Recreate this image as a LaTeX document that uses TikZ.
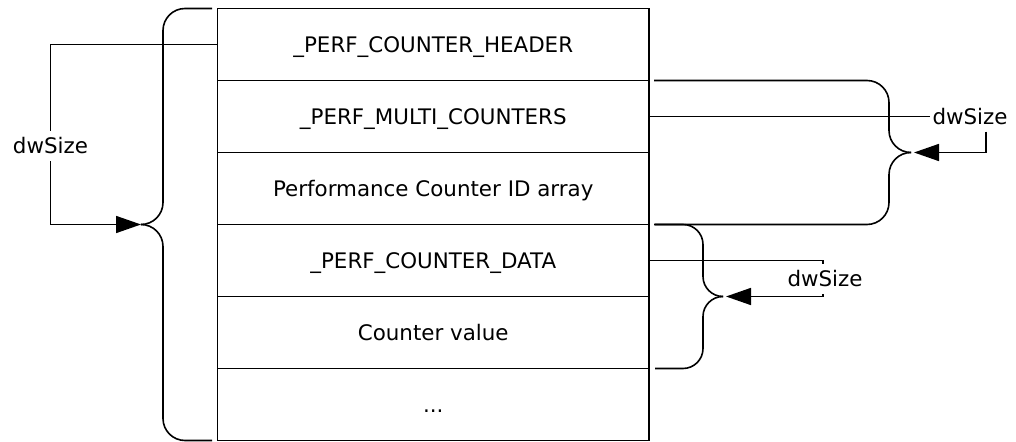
\documentclass[tikz,border=0pt]{standalone}
\usepackage{fontspec}
\setmainfont{DejaVu Sans}
\usetikzlibrary{arrows.meta,calc}
\begin{document}
\begin{tikzpicture}[x=1bp,y=-1bp,line width=1.6bp,
  txt/.style={font=\fontsize{21.4bp}{26bp}\selectfont, text height=15.6bp, text depth=0pt},
  row/.style={txt, draw, minimum width=431.5bp, minimum height=72bp, inner sep=0pt, anchor=center},
  lbl/.style={txt, inner xsep=2bp, inner ysep=6.5bp},
  bracecurve/.style={rounded corners=22bp},
  arr/.style={-{Triangle[length=25bp,width=17bp]}}]
\useasboundingbox (0,0) rectangle (1016,442);
% stacked rows
\node[row] (r1) at (433.25,44.5)  {\_PERF\_COUNTER\_HEADER};
\node[row] (r2) at (433.25,116.5) {\_PERF\_MULTI\_COUNTERS};
\node[row] (r3) at (433.25,188.5) {Performance Counter ID array};
\node[row] (r4) at (433.25,260.5) {\_PERF\_COUNTER\_DATA};
\node[row] (r5) at (433.25,332.5) {Counter value};
\node[row] (r6) at (433.25,404.5) {...};
% left brace
\coordinate (tipL) at (141,224.5);
\draw[bracecurve] (212,8.5) -- (163,8.5) -- (163,224.5) -- (tipL);
\draw[bracecurve] (tipL) -- (163,224.5) -- (163,440.5) -- (212,440.5);
% right brace 1
\coordinate (tip1) at (911,152.5);
\draw[bracecurve] (654,80.5) -- (889,80.5) -- (889,152.5) -- (tip1);
\draw[bracecurve] (tip1) -- (889,152.5) -- (889,224.5) -- (654,224.5);
% right brace 2
\coordinate (tip2) at (723,296.5);
\draw[rounded corners=20bp] (655,224.5) -- (703,224.5) -- (703,296.5) -- (tip2);
\draw[rounded corners=20bp] (tip2) -- (703,296.5) -- (703,368.5) -- (655,368.5);
% labels
\node[lbl] (lL) at (50.5,146) {dwSize};
\node[lbl] (l1) at (970,116.5) {dwSize};
\node[lbl] (l2) at (825,279) {dwSize};
% connectors
\draw (r1.west) -| (lL.north);
\draw[arr] (lL.south) |- (tipL);
\draw (r2.east) -- (l1.west);
\draw[arr,shorten >=3bp] ([xshift=16bp]l1.south) |- (tip1);
\draw (r4.east) -| ([xshift=-2bp]l2.north);
\draw[arr,shorten >=3bp] ([xshift=-2bp]l2.south) |- (tip2);
\end{tikzpicture}
\end{document}
